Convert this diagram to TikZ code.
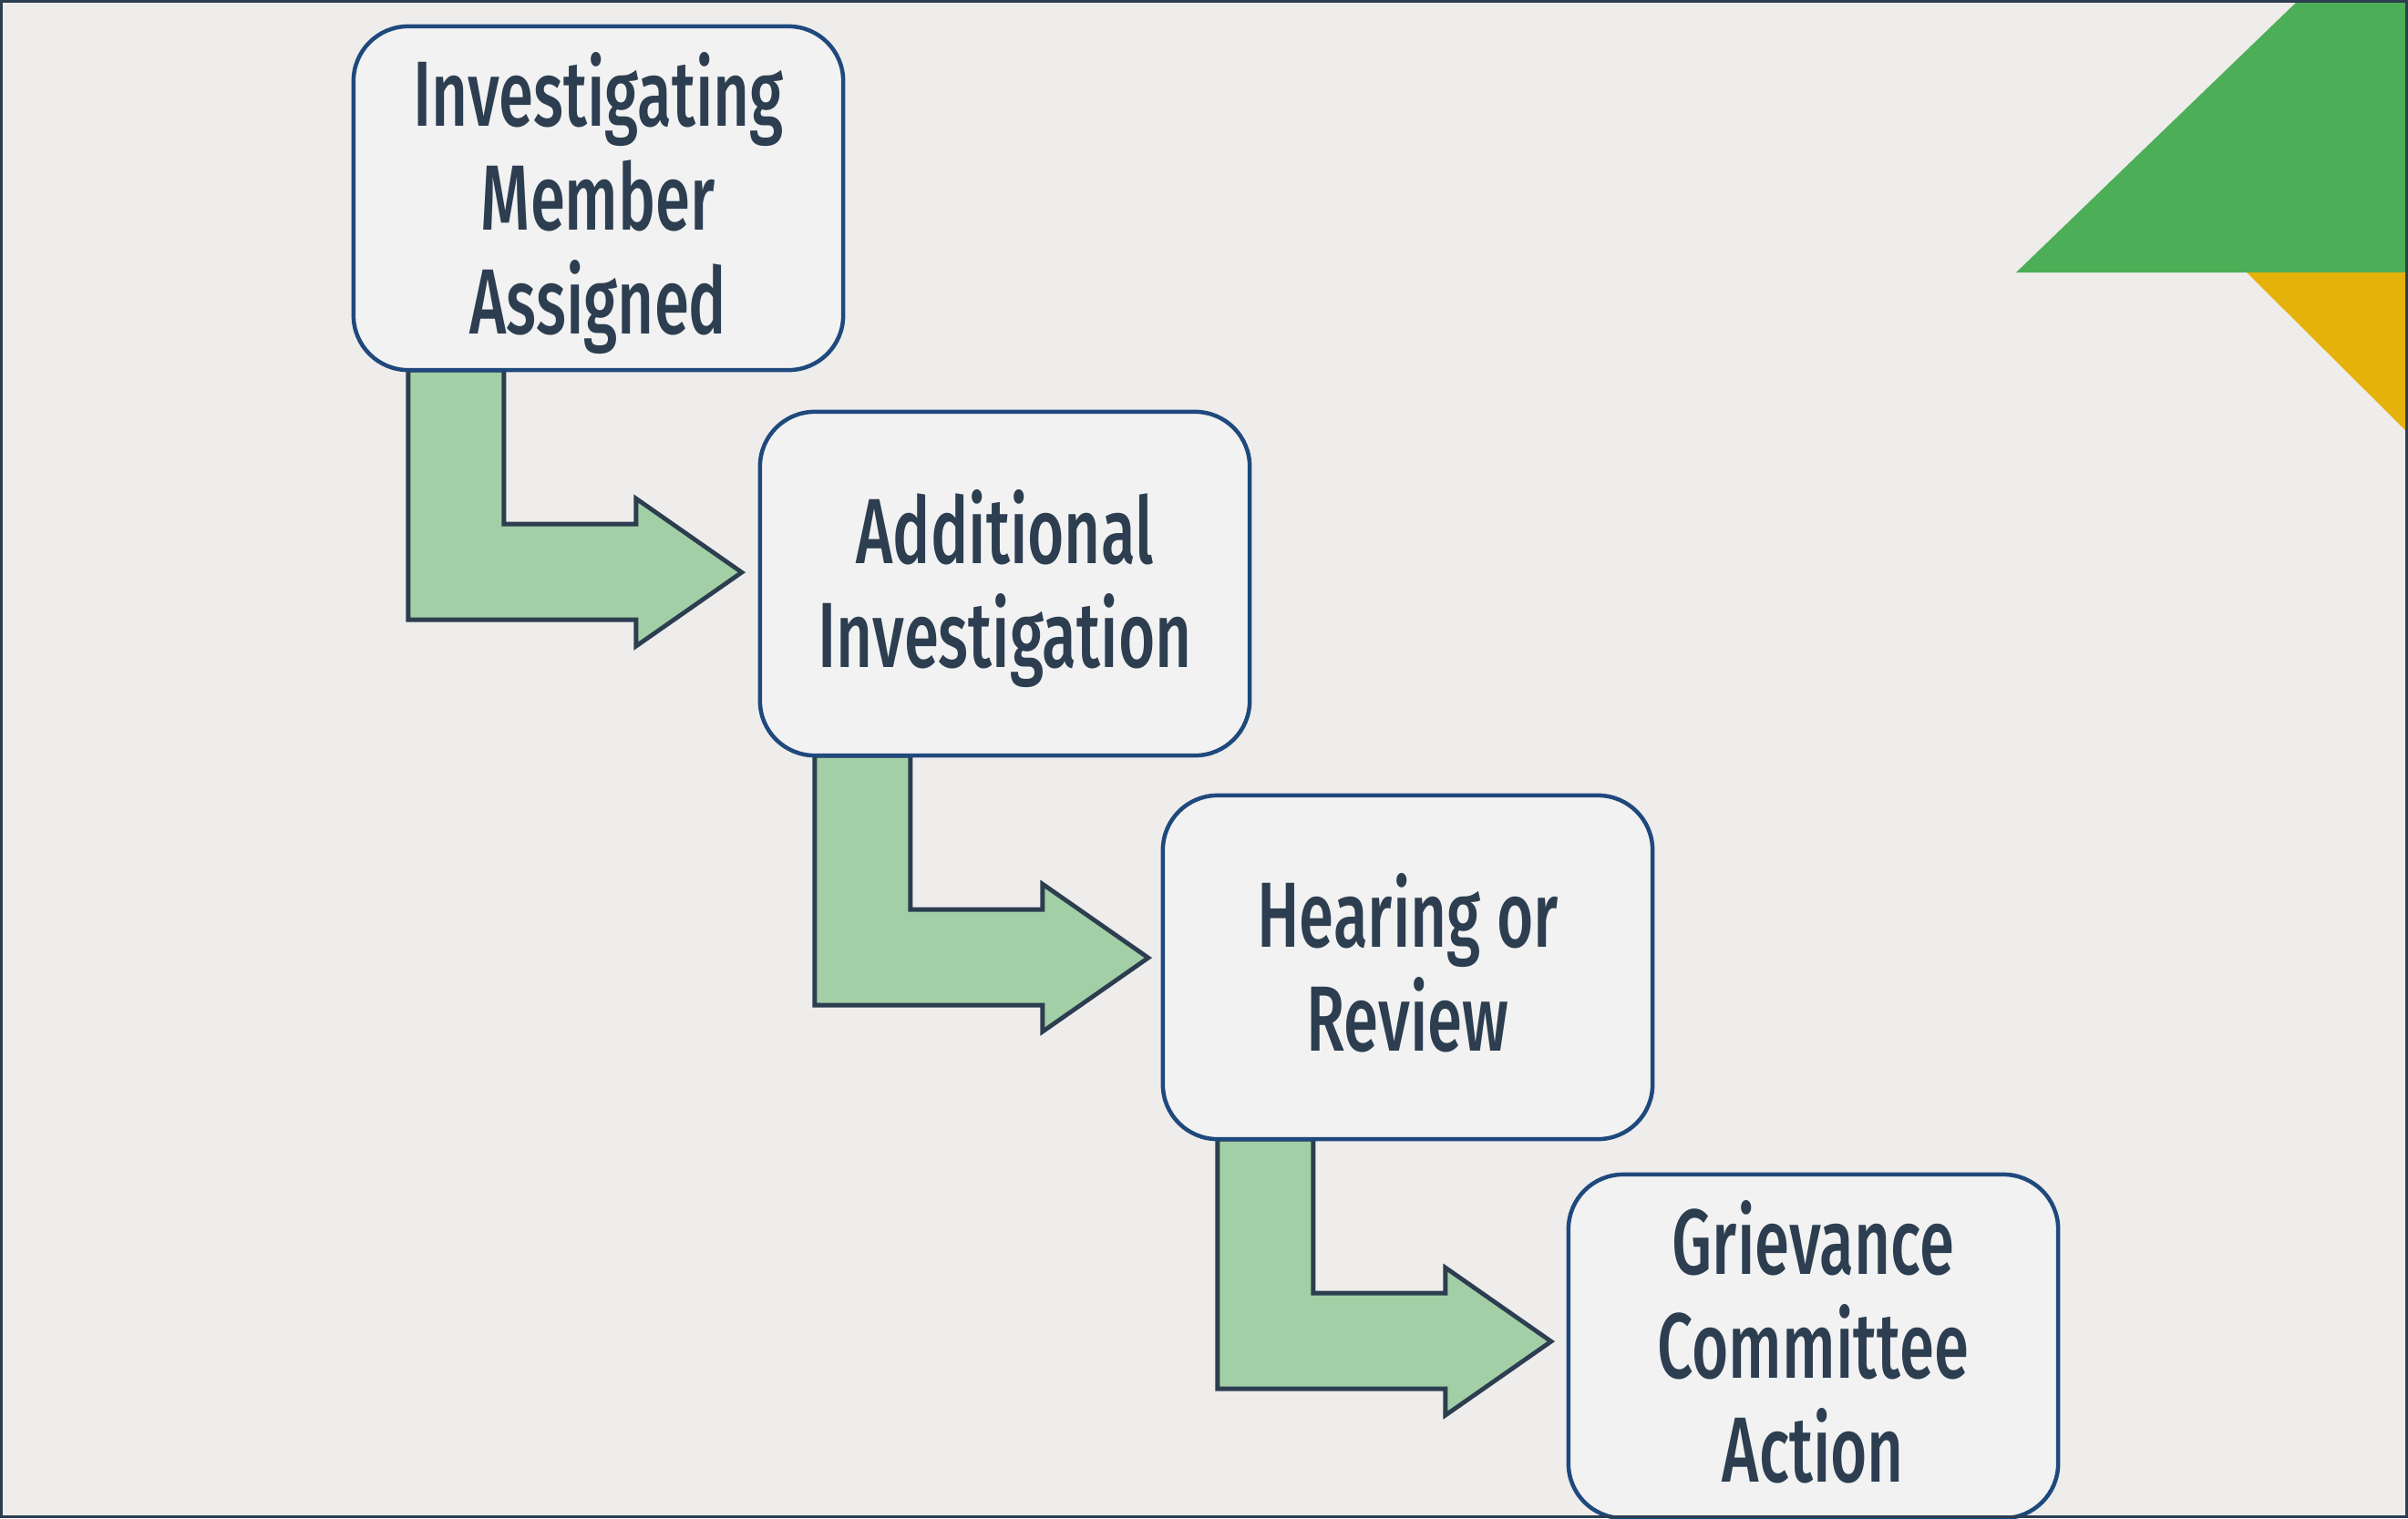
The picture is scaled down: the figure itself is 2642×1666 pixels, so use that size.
\documentclass[tikz,border=0pt]{standalone}
\usepackage{fontspec}
\newfontfamily\lblfont{Fira Sans Medium}[FakeStretch=0.68]
\usetikzlibrary{calc}
\definecolor{bg}{RGB}{238,237,235}
\definecolor{ink}{RGB}{44,62,80}
\definecolor{boxblue}{RGB}{31,73,125}
\definecolor{boxfill}{RGB}{242,242,242}
\definecolor{arrowfill}{RGB}{163,207,166}
\definecolor{trigreen}{RGB}{76,175,87}
\definecolor{trigold}{RGB}{229,178,11}
\begin{document}
\begin{tikzpicture}[x=0.01cm,y=-0.01cm]
\tikzset{
  stepbox/.style={draw=boxblue, fill=boxfill, line width=0.045cm, rounded corners=0.6cm,
    minimum width=5.37cm, minimum height=3.77cm, inner sep=0pt, outer sep=0pt},
  lbl/.style={anchor=base, text=ink, inner sep=0pt,
    font=\lblfont\fontsize{28.9pt}{32.4pt}\selectfont},
  blockarrow/.style={fill=arrowfill, draw=ink, line width=0.048cm, line join=miter}
}
\fill[bg] (0,0) rectangle (2642,1666);
\useasboundingbox (0,0) rectangle (2642,1666);

% corner triangles
\fill[trigreen] (2212,299) -- (2522,0) -- (2642,0) -- (2642,299) -- cycle;
\fill[trigold] (2465,299) -- (2642,299) -- (2642,475) -- cycle;

% box positions
\coordinate (c1) at (656.5,217.5);
\coordinate (c2) at (1102.5,640.5);
\coordinate (c3) at (1544.5,1061.5);
\coordinate (c4) at (1989.5,1477.5);

% invisible placeholders to get anchors for arrows
\path node[stepbox, draw=none, fill=none] (p1) at (c1) {}
      node[stepbox, draw=none, fill=none] (p2) at (c2) {}
      node[stepbox, draw=none, fill=none] (p3) at (c3) {};

% L-shaped block arrows
\foreach \b in {p1,p2,p3}{
  \draw[blockarrow]
    ($(\b.south west)+(60,0)$) -- ($(\b.south west)+(60,274)$)
    -- ($(\b.south west)+(310,274)$) -- ($(\b.south west)+(310,303)$)
    -- ($(\b.south west)+(426,222)$) -- ($(\b.south west)+(310,141)$)
    -- ($(\b.south west)+(310,169)$) -- ($(\b.south west)+(165,169)$)
    -- ($(\b.south west)+(165,0)$) -- cycle;
}

% boxes
\node[stepbox] (b1) at (c1) {};
\node[stepbox] (b2) at (c2) {};
\node[stepbox] (b3) at (c3) {};
\node[stepbox] (b4) at (c4) {};

% labels
\node[lbl] (t1a) at (656.5,138.5) {Investigating};
\node[lbl] (t1b) at (656.5,252.5) {Member};
\node[lbl] (t1c) at (656.5,366.5) {Assigned};
\node[lbl] (t2a) at (1102.5,618.5) {Additional};
\node[lbl] (t2b) at (1102.5,732.5) {Investigation};
\node[lbl] (t3a) at (1544.5,1039.5) {Hearing or};
\node[lbl] (t3b) at (1544.5,1153.5) {Review};
\node[lbl] (t4a) at (1989.5,1398.5) {Grievance};
\node[lbl] (t4b) at (1989.5,1512.5) {Committee};
\node[lbl] (t4c) at (1989.5,1626.5) {Action};

% frame
\draw[ink, line width=0.03cm] (1.5,1.5) rectangle (2640.5,1664.5);
\end{tikzpicture}
\end{document}
